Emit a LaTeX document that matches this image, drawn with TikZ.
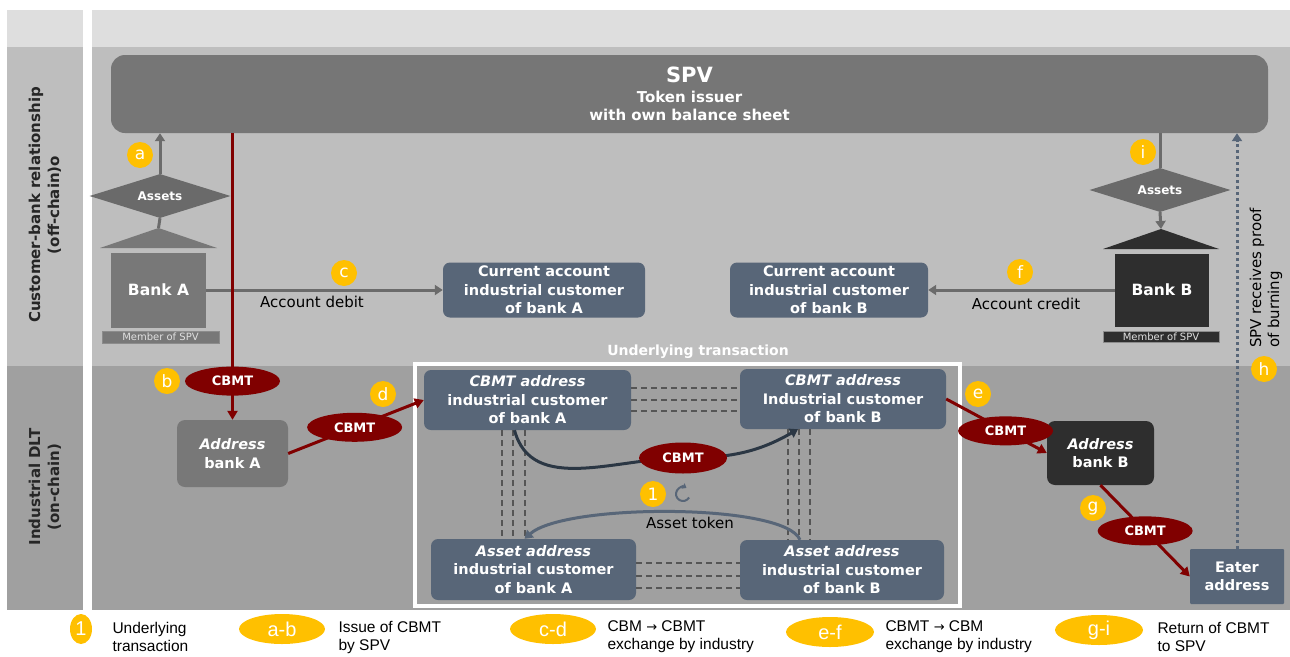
\documentclass[tikz,border=0pt]{standalone}
\usepackage{fontspec}
\setmainfont{DejaVu Sans}
\newfontfamily\legfont{Liberation Sans}
\newfontfamily\djv{DejaVu Sans}
\usetikzlibrary{arrows.meta,shapes.geometric,calc}
\definecolor{bgtop}{HTML}{DEDEDE}
\definecolor{bgup}{HTML}{BEBEBE}
\definecolor{bglow}{HTML}{A0A0A0}
\definecolor{spvc}{HTML}{767676}
\definecolor{slate}{HTML}{586678}
\definecolor{dred}{HTML}{800000}
\definecolor{ylw}{HTML}{FFC000}
\definecolor{darkb}{HTML}{2E2E2E}
\definecolor{agray}{HTML}{6B6B6B}
\definecolor{bankAc}{HTML}{787878}
\definecolor{diamc}{HTML}{6A6A6A}
\definecolor{curvec}{HTML}{2B3744}
\definecolor{dashc}{HTML}{555555}
\newcommand\boxfont{\fontsize{14.5}{18.5}\selectfont\bfseries}
\newcommand\lblfont{\fontsize{15}{19}\selectfont\bfseries}
\newcommand\numfont{\fontsize{17}{17}\selectfont}
\newcommand\cbmtfont{\fontsize{13}{13}\selectfont\bfseries}
\newcommand\assetfont{\fontsize{12}{12}\selectfont\bfseries}
\newcommand\memfont{\fontsize{10}{10}\selectfont}
\newcommand\plainfont{\fontsize{15}{18}\selectfont}
\newcommand\legtext{\legfont\fontsize{15.5}{18}\selectfont}
\tikzset{
  box/.style={rounded corners=7pt, fill=slate, text=white, font=\boxfont, align=center, inner sep=0pt},
  num/.style={circle, fill=ylw, text=white, inner sep=0pt, minimum size=26pt, font=\numfont},
  cbmt/.style={ellipse, fill=dred, text=white, font=\cbmtfont, inner sep=0pt, minimum width=95pt, minimum height=29pt},
  redarrow/.style={draw=dred, line width=3pt, -{Triangle[width=10pt,length=9pt]}},
  grayarrow/.style={draw=agray, line width=3pt, -{Triangle[width=10pt,length=8pt]}},
  grayline/.style={draw=agray, line width=3pt},
  dl/.style={draw=dashc, line width=1.4pt, dash pattern=on 6pt off 4pt},
  assetd/.style={diamond, fill=diamc, shape aspect=3.2, minimum width=141pt, minimum height=44pt, inner sep=0pt, text=white, font=\assetfont},
  legell/.style={ellipse, fill=ylw, text=white, inner sep=0pt, minimum height=30pt, font=\legfont\fontsize{20}{20}\selectfont},
  legtxt/.style={anchor=west, align=left, font=\legtext, text=black}
}
\begin{document}
\begin{tikzpicture}[x=1pt,y=-1pt]
\useasboundingbox (0,0) rectangle (1290,656);
\fill[white] (0,0) rectangle (1290,656);
% bands
\fill[bgtop] (7,10) rectangle (83,47);
\fill[bgtop] (92,10) rectangle (1290,47);
\fill[bgup] (7,47) rectangle (83,366);
\fill[bgup] (92,47) rectangle (1290,366);
\fill[bglow] (7,366) rectangle (83,610);
\fill[bglow] (92,366) rectangle (1290,610);

% lane labels
\node[rotate=90, align=center, font=\lblfont, text=black!85] (lane1) at (45,205) {Customer-bank relationship\\(off-chain)o};
\node[rotate=90, align=center, font=\lblfont, text=black!85] (lane2) at (45,487) {Industrial DLT\\(on-chain)};

% SPV
\node[rounded corners=14pt, fill=spvc, text=white, minimum width=1157pt, minimum height=78pt, align=center, inner sep=0pt, font=\fontsize{15}{18.5}\selectfont\bfseries] (spv) at (689.5,94) {{\fontsize{21}{24}\selectfont SPV}\\[1pt]Token issuer\\with own balance sheet};

% Bank A
\fill[bankAc] (100,248) -- (158.5,228) -- (217,248) -- cycle;
\coordinate (roofA) at (158.5,228);
\node[fill=bankAc, minimum width=95pt, minimum height=75pt, inner sep=0pt, text=white, font=\fontsize{15.5}{18}\selectfont\bfseries] (bankA) at (158.5,290) {Bank A};
\node[fill=bankAc, draw=black!45, line width=0.6pt, minimum width=117pt, minimum height=12pt, inner sep=0pt, text=white!88!black, font=\memfont] (memA) at (160.5,337) {Member of SPV};
\node[assetd] (asA) at (160,196) {Assets};
\draw[grayline] (asA.south) -- (roofA);
\draw[grayarrow] (asA.north) -- (asA.north |- spv.south);

% Bank B
\fill[darkb] (1103,249) -- (1161,229) -- (1219,249) -- cycle;
\coordinate (roofB) at (1161,229);
\node[fill=darkb, minimum width=94pt, minimum height=73pt, inner sep=0pt, text=white, font=\fontsize{15.5}{18}\selectfont\bfseries] (bankB) at (1162,290) {Bank B};
\node[fill=darkb, draw=black!45, line width=0.6pt, minimum width=116pt, minimum height=11pt, inner sep=0pt, text=white!88!black, font=\memfont] (memB) at (1161,336.5) {Member of SPV};
\node[assetd] (asB) at (1160,190) {Assets};
\draw[grayline] (asB.north |- spv.south) -- (asB.north);
\draw[grayarrow] (asB.south) -- (roofB);

% current accounts
\node[box, minimum width=202pt, minimum height=55pt] (curA) at (544,290) {Current account\\industrial customer\\of bank A};
\node[box, minimum width=198pt, minimum height=55pt] (curB) at (829,290) {Current account\\industrial customer\\of bank B};
\draw[grayarrow] (bankA.east) -- (curA.west);
\draw[grayarrow] (bankB.west) -- (curB.east);
\node[font=\plainfont, text=black] (ldebit) at (312,302) {Account debit};
\node[font=\plainfont, text=black] (lcredit) at (1026,304) {Account credit};

% underlying transaction frame
\node[draw=white, line width=4pt, minimum width=545pt, minimum height=242pt, inner sep=0pt] (frame) at (687.5,485) {};
\node[font=\fontsize{14}{16}\selectfont\bfseries, text=white] (ut) at (698,352) {Underlying transaction};

\node[box, minimum width=207pt, minimum height=60pt] (cbA) at (527.5,400) {\textit{CBMT address}\\industrial customer\\of bank A};
\node[box, minimum width=206pt, minimum height=60pt] (cbB) at (843,399) {\textit{CBMT address}\\Industrial customer\\of bank B};
\node[box, minimum width=205pt, minimum height=61pt] (aA) at (533.5,569.5) {\textit{Asset address}\\industrial customer\\of bank A};
\node[box, minimum width=204pt, minimum height=60pt] (aB) at (842,570) {\textit{Asset address}\\industrial customer\\of bank B};

% dashed links
\foreach \s in {12,0,-11} {
  \draw[dl] ([yshift=\s pt]cbA.east) -- ([yshift=\s pt]cbA.east -| cbB.west);
}
\foreach \s in {6.5,-6.5,-18.5} {
  \draw[dl] ([yshift=\s pt]aA.east) -- ([yshift=\s pt]aA.east -| aB.west);
}
\foreach \s in {-25.5,-14.5,-2.5} {
  \draw[dl] ([xshift=\s pt]cbA.south) -- ([xshift=\s pt]cbA.south |- aA.north);
}
\foreach \s in {-55,-44,-33} {
  \draw[dl] ([xshift=\s pt]cbB.south) -- ([xshift=\s pt]cbB.south |- aB.north);
}

% CBMT transfer curve
\coordinate (mid) at (683,458);
\draw[draw=curvec, line width=3pt, -{Triangle[width=10pt,length=8pt]}] ([xshift=-13pt]cbA.south) to[out=-75,in=180] (mid) to[out=0,in=-150] ([xshift=-45pt]cbB.south);
\node[cbmt, minimum width=88pt, minimum height=31pt] (ecb) at (mid) {CBMT};

% asset token curve
\draw[draw=slate, line width=3pt, -{Triangle[width=10pt,length=8pt]}] ([xshift=-42pt]aB.north) .. controls (785,503) and (565,503) .. ([xshift=-9pt]aA.north);
\node[font=\plainfont, text=black] (ltok) at (690,523) {Asset token};
\node[num] (n1) at (653,494) {1};
\coordinate (ico) at (683,494);
\draw[slate, line width=2pt, -{Triangle[width=6pt,length=4pt]}] ([shift={(-30:7pt)}]ico) arc[start angle=-30, end angle=-300, radius=7pt];

% addresses
\node[box, fill=bankAc, rounded corners=8pt, minimum width=111pt, minimum height=67pt] (addrA) at (232.5,453.5) {\textit{Address}\\bank A};
\node[box, fill=darkb, rounded corners=8pt, minimum width=107pt, minimum height=64pt] (addrB) at (1100.5,453) {\textit{Address}\\bank B};
\node[box, rounded corners=1pt, minimum width=94pt, minimum height=55pt] (eater) at (1237,576.5) {Eater\\address};

% red flows
\draw[redarrow] (spv.south -| addrA.north) -- (addrA.north) node[cbmt, pos=0.865] (eb) {CBMT};
\draw[redarrow] (addrA.east) -- (cbA.west) node[cbmt, pos=0.49] (ed) {CBMT};
\draw[redarrow] (cbB.east) -- (addrB.west) node[cbmt, pos=0.59] (ee) {CBMT};
\draw[redarrow] (addrB.south) -- (eater.west) node[cbmt, pos=0.5] (eg) {CBMT};

% proof of burning
\draw[draw=slate, line width=3pt, dash pattern=on 3pt off 3pt, -{Triangle[width=10pt,length=8pt]}] (eater.north) -- (eater.north |- spv.south);
\node[rotate=90, align=left, font=\plainfont, text=black] (lproof) at (1266,278) {SPV receives proof\\of burning};

% step markers
\node[num] (na) at (140,155) {a};
\node[num] (nb) at (167,381) {b};
\node[num] (nc) at (344,273) {c};
\node[num] (nd) at (383,394) {d};
\node[num] (ne) at (978,394) {e};
\node[num] (nf) at (1020,272) {f};
\node[num] (ng) at (1093,508) {g};
\node[num] (nh) at (1264,369) {h};
\node[num] (ni) at (1143,152) {i};

% legend
\node[legell, minimum width=22pt] (l1) at (81,629) {1};
\node[legtxt] (t1) at (109,637) {Underlying\\transaction};
\node[legell, minimum width=86pt] (l2) at (282,629) {a-b};
\node[legtxt] (t2) at (335,637) {Issue of CBMT\\by SPV};
\node[legell, minimum width=86pt] (l3) at (553,629) {c-d};
\node[legtxt] (t3) at (604,637) {CBM {\djv\fontsize{13}{13}\selectfont →} CBMT\\exchange by industry};
\node[legell, minimum width=88pt] (l4) at (830,632) {e-f};
\node[legtxt] (t4) at (882,637) {CBMT {\djv\fontsize{13}{13}\selectfont →} CBM\\exchange by industry};
\node[legell, minimum width=88pt] (l5) at (1099,630) {g-i};
\node[legtxt] (t5) at (1154,637) {Return of CBMT\\to SPV};
\end{tikzpicture}
\end{document}
